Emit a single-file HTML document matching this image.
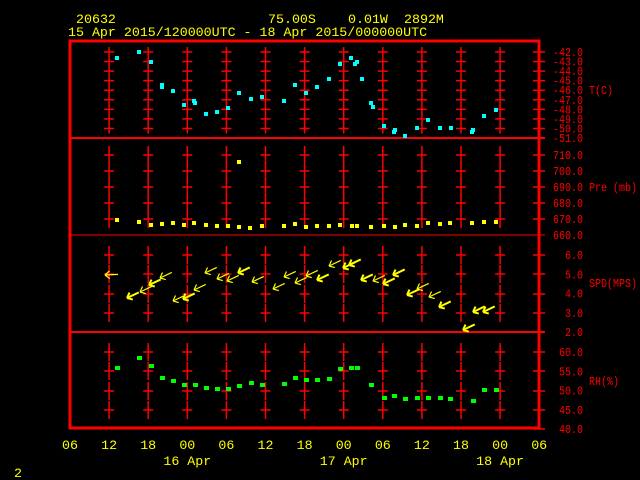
<!DOCTYPE html>
<html><head><meta charset="utf-8"><style>
html,body{margin:0;padding:0;background:#000;width:640px;height:480px;overflow:hidden}
svg{display:block}
text{font-family:"Liberation Mono","DejaVu Sans Mono",monospace;font-size:13.3px}
text.r{font-size:12px}
</style></head><body>
<svg id="s" width="640" height="480" xmlns="http://www.w3.org/2000/svg">
<rect width="640" height="480" fill="#000"/>
<g fill="#ffff00">
<text x="76" y="23">20632</text>
<text x="268" y="23">75.00S</text>
<text x="348" y="23">0.01W</text>
<text x="404" y="23">2892M</text>
<text x="68" y="36">15 Apr 2015/120000UTC - 18 Apr 2015/000000UTC</text>
<text x="14" y="477">2</text>
</g>
</svg>
<script>
var NS="http://www.w3.org/2000/svg",s=document.getElementById('s');
function el(t,a,txt){var e=document.createElementNS(NS,t);for(var k in a)e.setAttribute(k,a[k]);if(txt!==undefined)e.textContent=txt;s.appendChild(e);return e;}
var R="#ff0000";
var xs=[];for(var i=0;i<=12;i++)xs.push(70+39.1*i);
var ticks={T:[],P:[155,171,187,203,219],S:[255,274,294,313],H:[352,371,391,410]};
for(var k=0;k<9;k++)ticks.T.push(52+9.56*k);
["T","P","S","H"].forEach(function(p){ticks[p].forEach(function(y){
 var vh=p=="T"?5:9;
 for(var i=1;i<12;i++){
  el('line',{x1:xs[i]-5,x2:xs[i]+5,y1:y,y2:y,stroke:R,'stroke-width':1.5});
  el('line',{x1:xs[i],x2:xs[i],y1:y-vh,y2:y+vh,stroke:R,'stroke-width':1.5});}
 el('line',{x1:533,x2:545,y1:y,y2:y,stroke:R,'stroke-width':1.5});
});});
el('line',{x1:70,x2:545,y1:138,y2:138,stroke:R,'stroke-width':2});
el('line',{x1:70,x2:545,y1:235,y2:235,stroke:R,'stroke-width':1});
el('line',{x1:70,x2:545,y1:332,y2:332,stroke:R,'stroke-width':2});
el('line',{x1:533,x2:545,y1:429,y2:429,stroke:R,'stroke-width':1.5});
el('rect',{x:70,y:41,width:469,height:387,fill:'none',stroke:R,'stroke-width':3});
function rt(x,y,t,anchor){var a={x:x,y:y,fill:R,'class':'r',textLength:t.length*6,lengthAdjust:'spacingAndGlyphs'};if(anchor)a['text-anchor']=anchor;el('text',a,t);}
function rl(y,t){rt(583-t.length*6,y+4,t);}
for(var k=0;k<10;k++)rl(52+9.56*k,(-42-k).toFixed(1));
[710,700,690,680,670,660].forEach(function(v,i){rl(155+16*i,v.toFixed(1));});
[6,5,4,3,2].forEach(function(v,i){rl(255+19.25*i,v.toFixed(1));});
[60,55,50,45,40].forEach(function(v,i){rl(352+19.25*i,v.toFixed(1));});
rt(589,94,'T(C)');
rt(589,191,'Pre (mb)');
rt(589,287,'SPD(MPS)');
rt(589,385,'RH(%)');
var bl=["06","12","18","00","06","12","18","00","06","12","18","00","06"];
bl.forEach(function(t,i){el('text',{x:xs[i],y:449,fill:'#ffff00','text-anchor':'middle'},t);});
el('text',{x:xs[3],y:465,fill:'#ffff00','text-anchor':'middle'},'16 Apr');
el('text',{x:xs[7],y:465,fill:'#ffff00','text-anchor':'middle'},'17 Apr');
el('text',{x:xs[11],y:465,fill:'#ffff00','text-anchor':'middle'},'18 Apr');
var T=[[117,58],[139,52],[151,62],[162,85],[162,87],[173,91],[184,105],[194,101],[195,103],[206,114],[217,112],[228,108],[239,93],[251,99],[262,97],[284,101],[295,85],[306,93],[317,87],[329,79],[340,64],[351,58],[355,64],[357,62],[362,79],[371,103],[373,107],[384,126],[394,132],[395,130],[405,136],[417,128],[428,120],[440,128],[451,128],[472,132],[473,130],[484,116],[496,110]];
T.forEach(function(p){el('rect',{x:p[0]-2,y:p[1]-2,width:4,height:4,fill:'#00ffff'});});
var P=[[117,220],[139,222],[151,225],[162,224],[173,223],[184,225],[194,223],[206,225],[217,226],[228,226],[239,227],[250,228],[262,226],[284,226],[295,224],[306,227],[317,226],[329,226],[340,225],[352,226],[357,226],[371,227],[384,226],[395,227],[405,225],[417,226],[428,223],[440,224],[450,223],[472,223],[484,222],[496,222],[239,162]];
P.forEach(function(p){el('rect',{x:p[0]-2,y:p[1]-2,width:4,height:4,fill:'#ffff00'});});
var H=[[117,368],[139,358],[151,366],[162,378],[173,381],[184,385],[195,385],[206,388],[217,389],[228,389],[239,386],[251,383],[262,385],[284,384],[295,378],[306,380],[317,380],[329,379],[340,369],[351,368],[357,368],[371,385],[384,398],[394,396],[405,399],[417,398],[428,398],[440,398],[450,399],[473,401],[484,390],[496,390]];
H.forEach(function(p){el('rect',{x:p[0]-2,y:p[1]-2,width:5,height:4,fill:'#00ff00'});});
var W=[[105,275,0,.5],[127,298,1,0],[140,292,0,0],[149,285,1,0],[160,278,0,0],[173,301,0,0],[183,299,1,0],[194,290,0,0],[205,273,0,0],[217,279,0,0],[227,281,0,0],[238,273,1,0],[252,282,0,0],[273,289,0,0],[284,277,0,0],[295,283,0,0],[306,276,0,0],[317,280,1,0],[329,266,0,0],[343,268,1,0],[349,265,1,0],[361,280,1,0],[373,281,0,0],[383,284,1,0],[393,275,1,0],[407,295,1,0],[417,289,0,0],[429,297,0,0],[439,307,1,0],[463,330,1,0],[473,312,1,0],[483,312,1,0]];
W.forEach(function(w){var x=w[0],y=w[1],a=w[3]?0.05:0.44,L=13,sw=w[2]?2:1.2;
 var dx=Math.cos(a),dy=-Math.sin(a);
 el('line',{x1:x,y1:y,x2:x+dx*L,y2:y+dy*L,stroke:'#ffff00','stroke-width':sw});
 [0.7,-0.7].forEach(function(b){var c=Math.cos(a+b),d=-Math.sin(a+b);
  el('line',{x1:x,y1:y,x2:x+c*6,y2:y+d*6,stroke:'#ffff00','stroke-width':sw});});
});
</script>
</body></html>
